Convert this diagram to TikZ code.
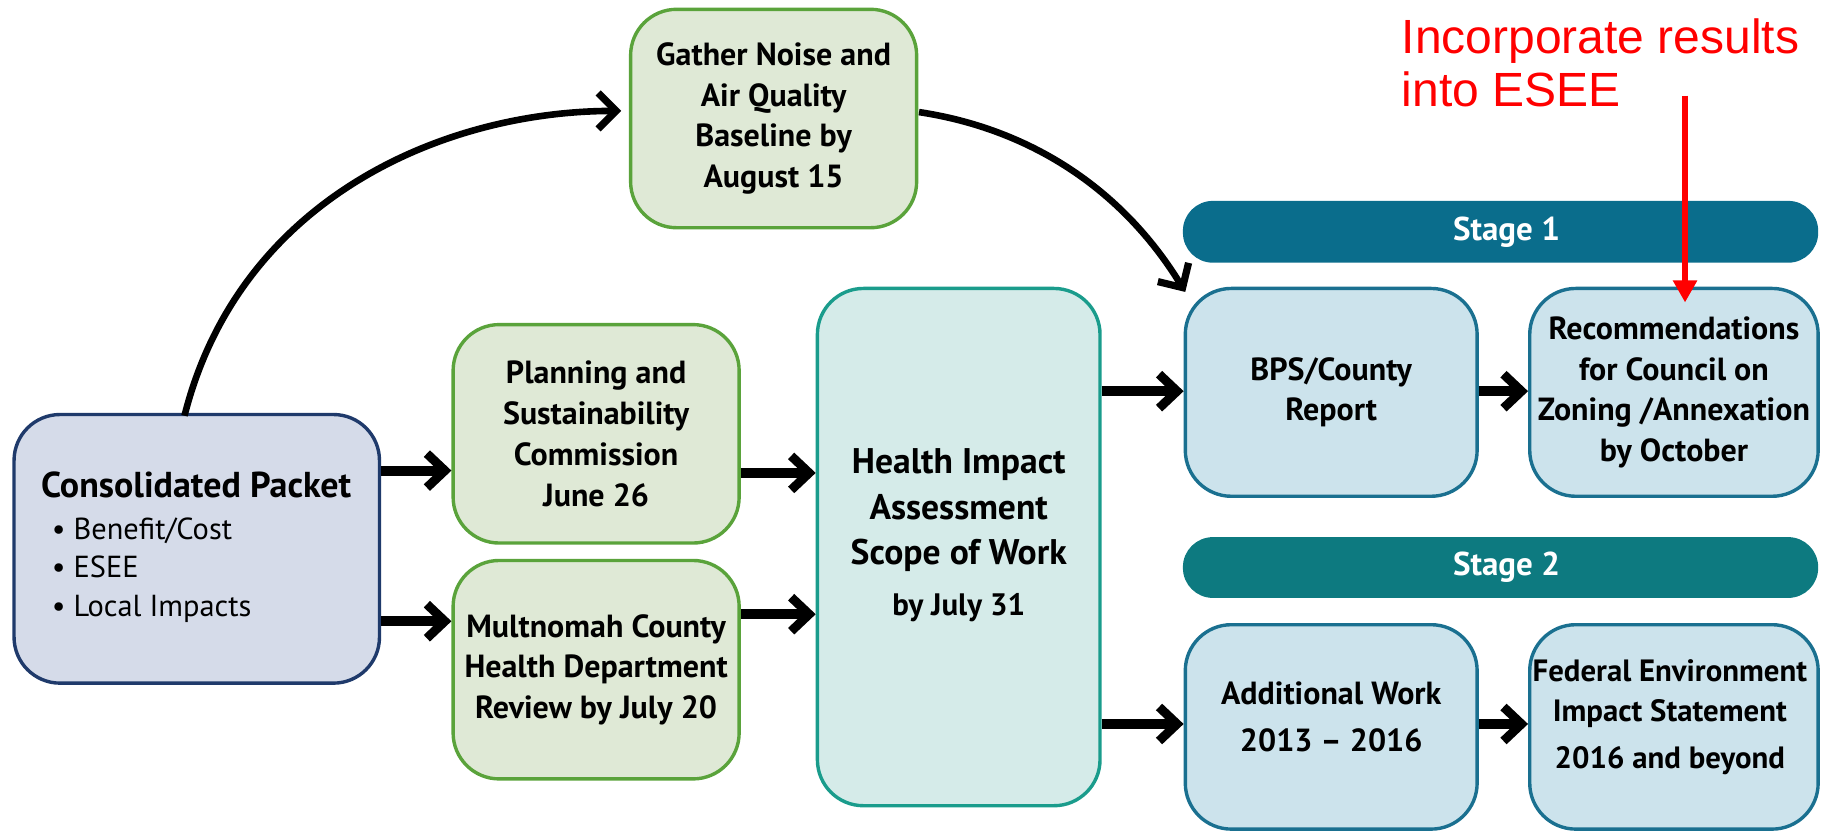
\documentclass[tikz,border=0pt]{standalone}
\usepackage{fontspec}
\setmainfont{PT Sans}
\newfontfamily\redfont{Liberation Sans}
\usetikzlibrary{arrows.meta}
\definecolor{lav}{HTML}{D5DBE9}
\definecolor{navy}{HTML}{1F3A6B}
\definecolor{grfill}{HTML}{DFE9D6}
\definecolor{grline}{HTML}{5AA33B}
\definecolor{hiafill}{HTML}{D5EBE9}
\definecolor{hialine}{HTML}{1A9C8C}
\definecolor{blfill}{HTML}{CCE3EC}
\definecolor{blline}{HTML}{1A7090}
\definecolor{stone}{HTML}{0A6D8C}
\definecolor{sttwo}{HTML}{0D7A80}
\tikzset{
  box/.style={draw, rounded corners=23pt, line width=1.7pt, align=center, inner sep=0pt, font=\bfseries\fontsize{16}{20.4}\selectfont},
  greenbox/.style={box, fill=grfill, draw=grline},
  bluebox/.style={box, fill=blfill, draw=blline},
  stagebar/.style={rounded corners=15pt, text=white, font=\bfseries\fontsize{16.5}{19}\selectfont, inner sep=0pt},
  flow/.style={line width=5pt, -{Straight Barb[length=9pt, width=17pt, line width=4.5pt]}},
  curv/.style={line width=3.3pt, -{Straight Barb[length=9pt, width=18pt, line width=3.6pt]}}
}
\begin{document}
\begin{tikzpicture}[x=0.5838pt, y=-0.5838pt]
\useasboundingbox (0,0) rectangle (1568,712.5);
% boxes
\node[box, fill=lav, draw=navy, minimum width=182.7pt, minimum height=134.3pt] (cp) at (168.5,470) {};
\node[font=\bfseries\fontsize{18}{21}\selectfont] (cpt) at (168,415) {Consolidated Packet};
\node[anchor=west, align=left, font=\fontsize{15.2}{19.3}\selectfont, inner sep=0pt] (cpl) at (44,488) {\textbullet\ Benefit/Cost\\ \textbullet\ ESEE\\ \textbullet\ Local Impacts};
\node[greenbox, minimum width=143pt, minimum height=109.2pt] (gn) at (662.5,101.5) {Gather Noise and\\Air Quality\\Baseline by\\August 15};
\node[greenbox, minimum width=143pt, minimum height=109.2pt] (pl) at (510.5,371.5) {Planning and\\Sustainability\\Commission\\June 26};
\node[greenbox, minimum width=143pt, minimum height=109.2pt] (mc) at (510.5,573.5) {Multnomah County\\Health Department\\Review by July 20};
\node[box, fill=hiafill, draw=hialine, minimum width=141.3pt, minimum height=258.6pt] (hia) at (821,468.5) {};
\node[align=center, font=\bfseries\fontsize{17.8}{22.8}\selectfont] (hiat) at (821,437) {Health Impact\\Assessment\\Scope of Work};
\node[font=\bfseries\fontsize{15.5}{18}\selectfont] (hiad) at (821,520) {by July 31};
\node[stagebar, fill=stone, minimum width=317.6pt, minimum height=30.9pt] (s1) at (1285,198.5) {\hspace*{6pt}Stage 1};
\node[stagebar, fill=sttwo, minimum width=317.6pt, minimum height=30.4pt] (s2) at (1285,486) {\hspace*{6pt}Stage 2};
\node[bluebox, minimum width=145.9pt, minimum height=103.9pt] (bps) at (1140,336) {BPS/County\\Report};
\node[bluebox, minimum width=144.2pt, minimum height=103.9pt] (rec) at (1433.5,336) {Recommendations\\for Council on\\Zoning /Annexation\\by October};
\node[bluebox, minimum width=145.9pt, minimum height=102.2pt] (aw) at (1140,622.5) {};
\node[align=center, font=\bfseries\fontsize{16}{20.4}\selectfont] (awt) at (1140,614) {Additional Work\\[3pt]2013 -- 2016};
\node[bluebox, minimum width=144.2pt, minimum height=102.2pt] (fe) at (1433.5,622.5) {};
\node[align=center, font=\bfseries\fontsize{15.4}{20.2}\selectfont] (fet) at (1430,614) {Federal Environment\\Impact Statement\\[3pt]2016 and beyond};
% red note
\node[anchor=north west, align=left, text=red, font=\redfont\fontsize{24}{26.3}\selectfont, inner sep=0pt] (note) at (1200,16) {Incorporate results\\into ESEE};
\coordinate (rs) at (1443,82);
\coordinate (re) at (1443,259);
\draw[red, line width=3pt, -{Triangle[length=11pt, width=11.5pt]}] (rs) -- (re);
% flow arrows
\draw[flow] (cp.east |- 0,403) -- (pl.west |- 0,403);
\draw[flow] (cp.east |- 0,532) -- (mc.west |- 0,532);
\draw[flow] (pl.east |- 0,405) -- (hia.west |- 0,405);
\draw[flow] (mc.east |- 0,526) -- (hia.west |- 0,526);
\draw[flow] (hia.east |- 0,335) -- (bps.west |- 0,335);
\draw[flow] (hia.east |- 0,620) -- (aw.west |- 0,620);
\draw[flow] (bps.east |- 0,335) -- (rec.west |- 0,335);
\draw[flow] (aw.east |- 0,620) -- (fe.west |- 0,620);
% curved arrows
\coordinate (c1s) at (158,356);
\coordinate (c1e) at (532,95);
\draw[curv] (c1s) .. controls (205,170) and (380,95) .. (c1e);
\coordinate (c2s) at (787,96);
\coordinate (c2e) at (1015,250);
\draw[curv] (c2s) .. controls (880,110) and (960,160) .. (c2e);
\end{tikzpicture}
\end{document}
